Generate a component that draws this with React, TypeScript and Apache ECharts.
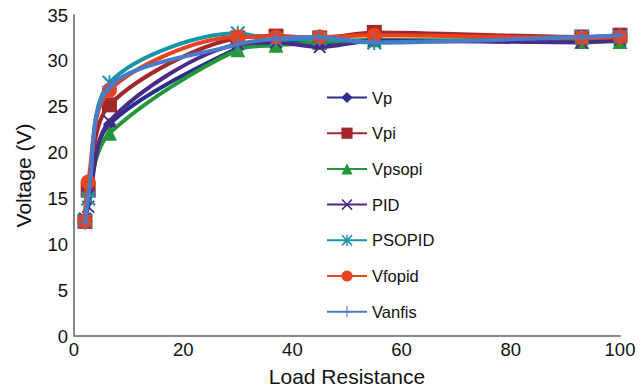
import React, { useEffect, useRef } from "react";
import * as echarts from "echarts";

const loadResistance = [2, 2.6, 6.5, 30, 37, 45, 55, 93, 100];
const seriesNames = ["Vp", "Vpi", "Vpsopi", "PID", "PSOPID", "Vfopid", "Vanfis"];
const vp = [12.6, 15.6, 23.1, 31.4, 32.0, 31.9, 32.2, 32.2, 32.5];
const vpi = [12.5, 16.0, 25.2, 32.5, 32.7, 32.5, 33.1, 32.6, 32.8];
const vpsopi = [12.7, 15.9, 22.1, 31.2, 31.7, 32.0, 32.3, 32.1, 32.1];
const pid = [12.8, 14.1, 23.4, 31.8, 32.0, 31.5, 32.2, 32.0, 32.3];
const psopid = [12.6, 15.0, 27.6, 33.0, 32.3, 32.4, 32.0, 32.6, 32.6];
const vfopid = [12.5, 16.8, 26.8, 32.6, 32.6, 32.6, 32.8, 32.5, 32.6];
const vanfis = [12.4, 15.2, 27.2, 31.8, 32.4, 32.6, 32.0, 32.6, 32.8];
const xTicks = [0, 20, 40, 60, 80, 100];
const yTicks = [0, 5, 10, 15, 20, 25, 30, 35];

const values = [vp, vpi, vpsopi, pid, psopid, vfopid, vanfis];
const colors = ["#2b2e8c", "#a3282c", "#23973a", "#4a2a88", "#1b93a6", "#e8431f", "#4a7bc8"];
const symbols = [
  "diamond",
  "rect",
  "triangle",
  "path://M0,1L1,0L5,4L9,0L10,1L6,5L10,9L9,10L5,6L1,10L0,9L4,5Z",
  "path://M4.4,0H5.6V10H4.4Z M0,1L1,0L5,4L9,0L10,1L6,5L10,9L9,10L5,6L1,10L0,9L4,5Z",
  "circle",
  "path://M4.5,0H5.5V4.5H10V5.5H5.5V10H4.5V5.5H0V4.5H4.5Z",
];
const symbolSizes = [13, 15, 15, 13, 15, 15, 15];

export default function App() {
  const ref = useRef<HTMLDivElement>(null);
  useEffect(() => {
    if (!ref.current) return;
    const chart = echarts.init(ref.current, null, { renderer: "svg" });
    const font = "Liberation Sans, Arial, sans-serif";
    chart.setOption({
      animation: false,
      backgroundColor: "#ffffff",
      grid: { left: 74, right: 24, top: 15, bottom: 56, outerBoundsMode: "none", containLabel: false },
      legend: {
        orient: "vertical",
        left: 321,
        top: 84,
        itemWidth: 40,
        itemHeight: 14,
        itemGap: 18.7,
        textStyle: { fontFamily: font, fontSize: 16.5, color: "#111" },
        data: seriesNames,
      },
      xAxis: {
        type: "value",
        min: 0,
        max: 100,
        interval: 20,
        name: "Load Resistance",
        nameLocation: "middle",
        nameGap: 30,
        nameTextStyle: { fontFamily: font, fontSize: 21, color: "#111" },
        axisLine: { show: true, lineStyle: { color: "#888", width: 2 } },
        axisTick: { show: false },
        splitLine: { show: false },
        axisLabel: {
          fontFamily: font,
          fontSize: 18.5,
          color: "#111",
          margin: 4,
          formatter: (v: number) => (xTicks.includes(v) ? String(v) : ""),
        },
      },
      yAxis: {
        type: "value",
        min: 0,
        max: 35,
        interval: 5,
        name: "Voltage (V)",
        nameLocation: "middle",
        nameGap: 40,
        nameTextStyle: { fontFamily: font, fontSize: 21, color: "#111" },
        axisLine: { show: true, lineStyle: { color: "#888", width: 2 } },
        axisTick: { show: false },
        splitLine: { show: false },
        axisLabel: {
          fontFamily: font,
          fontSize: 18.5,
          color: "#111",
          margin: 6,
          formatter: (v: number) => (yTicks.includes(v) ? String(v) : ""),
        },
      },
      series: seriesNames.map((name, i) => ({
        name,
        type: "line",
        smooth: 0.3,
        data: loadResistance.map((x, j) => [x, values[i][j]]),
        symbol: symbols[i],
        symbolSize: symbolSizes[i],
        showAllSymbol: true,
        color: colors[i],
        lineStyle: { width: 4, color: colors[i] },
        itemStyle: { color: colors[i] },
        z: 2 + i,
      })),
    });
    return () => chart.dispose();
  }, []);
  return (
    <div
      ref={ref}
      style={{ position: "absolute", left: 0, top: 0, width: 644, height: 392 }}
    />
  );
}
